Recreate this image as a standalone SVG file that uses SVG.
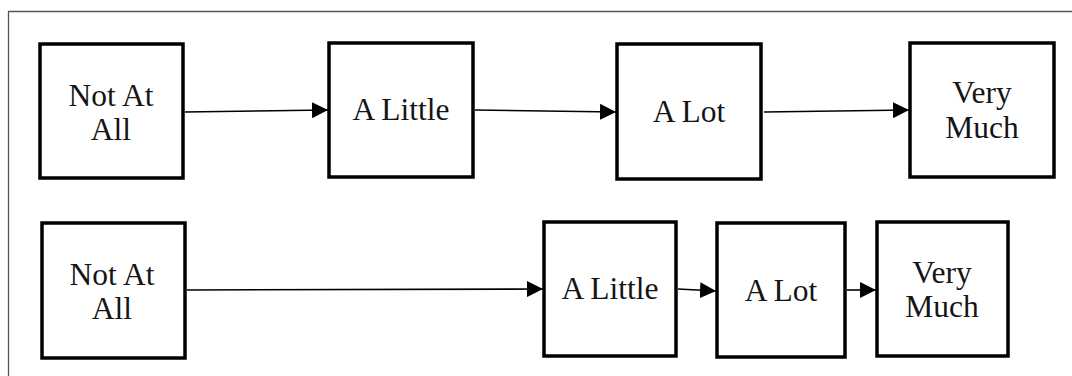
<svg xmlns="http://www.w3.org/2000/svg" width="1072" height="376" viewBox="0 0 1072 376">
  <style>
    .box { fill: #ffffff; stroke: #000000; stroke-width: 3.5; }
    .lbl { font-size: 31.5px; fill: #151515; text-anchor: middle; }
    .link { stroke: #000000; stroke-width: 1.6; fill: none; marker-end: url(#head); }
    .frame { fill: none; stroke: #555555; stroke-width: 1.3; }
  </style>
  <defs>
    <marker id="head" markerUnits="userSpaceOnUse" markerWidth="16" markerHeight="16" refX="16" refY="8" orient="auto">
      <path d="M0,0 L16,8 L0,16 Z" fill="#000000"/>
    </marker>
  </defs>

  <rect x="0" y="0" width="1072" height="376" fill="#ffffff"/>
  <!-- outer frame: top and left edges -->
  <path class="frame" d="M8.5,376 V11.5 H1072"/>

  <!-- connectors -->
  <g id="connectors">
    <line class="link" x1="185" y1="112" x2="328" y2="110"/>
    <line class="link" x1="475" y1="110" x2="616" y2="112"/>
    <line class="link" x1="764" y1="112" x2="909" y2="110"/>
    <line class="link" x1="187" y1="290" x2="543" y2="289"/>
    <line class="link" x1="678" y1="289" x2="716" y2="291"/>
    <line class="link" x1="847" y1="290" x2="876" y2="290"/>
  </g>

  <g font-family="'Liberation Serif', 'Times New Roman', 'DejaVu Serif', serif">
    <!-- upper row -->
    <g id="top-not-at-all">
      <rect class="box" x="40" y="44" width="143" height="134"/>
      <text class="lbl" x="111" y="106">Not At</text>
      <text class="lbl" x="111" y="140">All</text>
    </g>
    <g id="top-a-little">
      <rect class="box" x="329" y="43" width="144" height="134"/>
      <text class="lbl" x="401" y="120">A Little</text>
    </g>
    <g id="top-a-lot">
      <rect class="box" x="617" y="44" width="144" height="135"/>
      <text class="lbl" x="689" y="122">A Lot</text>
    </g>
    <g id="top-very-much">
      <rect class="box" x="910" y="43" width="144" height="134"/>
      <text class="lbl" x="982" y="103">Very</text>
      <text class="lbl" x="982" y="138">Much</text>
    </g>

    <!-- lower row -->
    <g id="bottom-not-at-all">
      <rect class="box" x="42" y="223" width="143" height="135"/>
      <text class="lbl" x="112" y="285">Not At</text>
      <text class="lbl" x="112" y="319">All</text>
    </g>
    <g id="bottom-a-little">
      <rect class="box" x="544" y="222" width="132" height="134"/>
      <text class="lbl" x="610" y="299">A Little</text>
    </g>
    <g id="bottom-a-lot">
      <rect class="box" x="717" y="223" width="128" height="134"/>
      <text class="lbl" x="781" y="301">A Lot</text>
    </g>
    <g id="bottom-very-much">
      <rect class="box" x="877" y="222" width="131" height="134"/>
      <text class="lbl" x="942" y="283">Very</text>
      <text class="lbl" x="942" y="317">Much</text>
    </g>
  </g>
</svg>
